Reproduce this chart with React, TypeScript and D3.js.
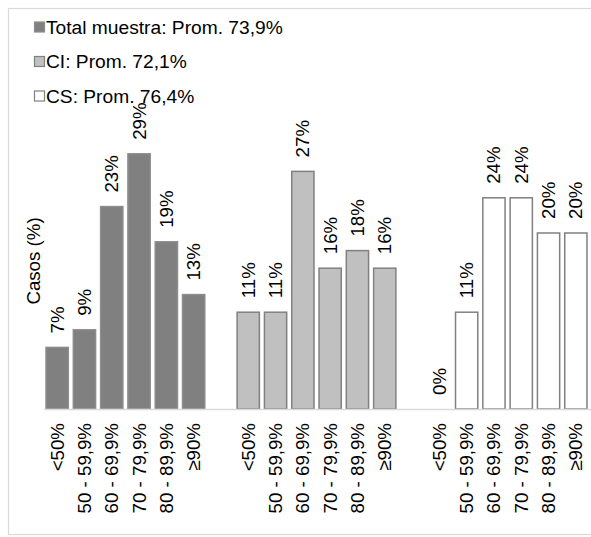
import React from "react";
import * as d3 from "d3";

// Score ranges shared by every group
const categories = ["<50%", "50 - 59,9%", "60 - 69,9%", "70 - 79,9%", "80 - 89,9%", "≥90%"];

// Share of cases (%) per range
const totalValues = [7, 9, 23, 29, 19, 13];
const ciValues = [11, 11, 27, 16, 18, 16];
const csValues = [0, 11, 24, 24, 20, 20];

const seriesNames = ["Total muestra: Prom. 73,9%", "CI: Prom. 72,1%", "CS: Prom. 76,4%"];
const yAxisTitle = "Casos (%)";

const W = 591;
const H = 537;
const FONT = "'Liberation Sans', Arial, sans-serif";
const FS = 18.7;
const LEGEND_FS = 19.2;

const styles = [
  { fill: "#808080", stroke: "#8c8c8c" },
  { fill: "#c0c0c0", stroke: "#808080" },
  { fill: "#ffffff", stroke: "#808080" },
];

export default function App() {
  const groups = [totalValues, ciValues, csValues];

  // 6 bars per group with one empty slot between groups
  const slots: string[] = [];
  groups.forEach((_, g) => {
    categories.forEach((c) => slots.push(`${g}|${c}`));
    if (g < groups.length - 1) slots.push(`gap${g}`);
  });

  const x = d3.scaleBand<string>().domain(slots).range([43.5, 589.5]).paddingInner(0.13).paddingOuter(0.065);
  const y = d3.scaleLinear().domain([0, 30]).range([409, 145]);
  const bw = x.bandwidth();

  const bars = groups.flatMap((vals, g) =>
    vals.map((v, i) => ({ g, i, v, key: `${g}|${categories[i]}` }))
  );

  return (
    <svg
      width={W}
      height={H}
      style={{ position: "absolute", left: 0, top: 0, display: "block", background: "#fff" }}
      fontFamily={FONT}
    >
      <rect x={8.5} y={8.5} width={W + 10} height={526} fill="#fff" stroke="#d9d9d9" strokeWidth={1.2} />

      {/* legend */}
      {seriesNames.map((name, k) => {
        const cy = 27 + k * 34.5;
        return (
          <g key={name}>
            <rect x={34.5} y={cy - 5} width={10} height={10} fill={styles[k].fill} stroke={styles[k].stroke} strokeWidth={1.2} />
            <text x={46} y={cy} dy="0.35em" fontSize={LEGEND_FS} fill="#000">
              {name}
            </text>
          </g>
        );
      })}

      {/* y axis title */}
      <text
        transform={`translate(${40},${261}) rotate(-90)`}
        textAnchor="middle"
        fontSize={FS}
        fill="#000"
      >
        {yAxisTitle}
      </text>

      {/* bars */}
      {bars.map((b) => {
        const x0 = x(b.key)!;
        const top = y(b.v);
        if (b.v <= 0) return null;
        return (
          <rect
            key={b.key}
            x={x0 + 0.75}
            y={top}
            width={bw - 1.5}
            height={y(0) - top}
            fill={styles[b.g].fill}
            stroke={styles[b.g].stroke}
            strokeWidth={1.5}
          />
        );
      })}

      {/* baseline */}
      <line x1={x(slots[0])! - 1} x2={W} y1={y(0) + 0.5} y2={y(0) + 0.5} stroke="#d9d9d9" strokeWidth={1.5} />

      {/* value labels */}
      {bars.map((b) => {
        const cx = x(b.key)! + bw / 2;
        const ty = y(b.v) - 14;
        return (
          <text
            key={`v${b.key}`}
            transform={`translate(${cx},${ty}) rotate(-90)`}
            dy="0.35em"
            fontSize={FS}
            fill="#000"
          >
            {`${b.v}%`}
          </text>
        );
      })}

      {/* category labels */}
      {bars.map((b) => {
        const cx = x(b.key)! + bw / 2;
        return (
          <text
            key={`c${b.key}`}
            transform={`translate(${cx},${y(0) + 14}) rotate(-90)`}
            dy="0.35em"
            textAnchor="end"
            fontSize={FS}
            fill="#000"
          >
            {categories[b.i]}
          </text>
        );
      })}
    </svg>
  );
}
